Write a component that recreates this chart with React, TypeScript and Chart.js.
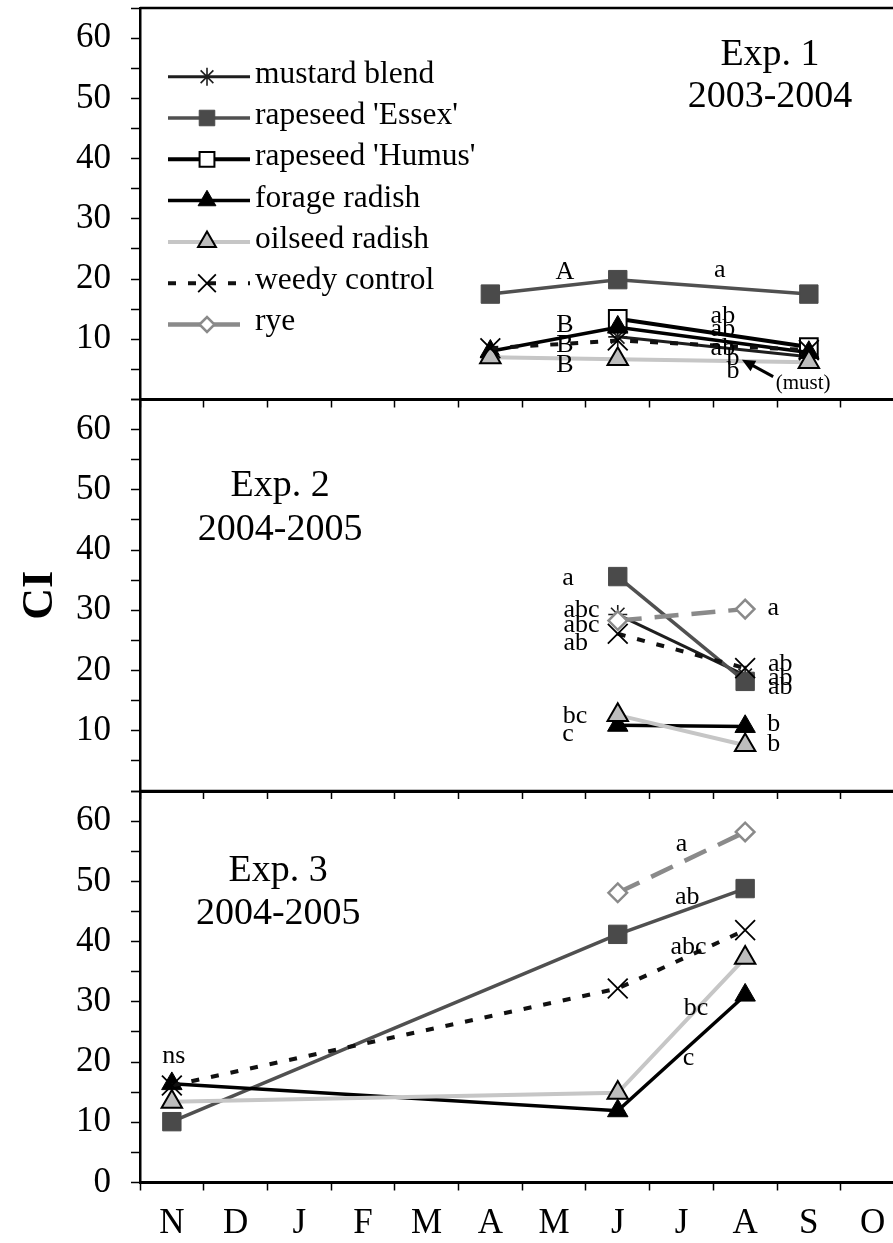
import { useEffect, useRef } from 'react';
import { Chart, registerables } from 'chart.js';
import { drawPoint } from 'chart.js/helpers';

Chart.register(...registerables);

const FONT = "'Liberation Serif', 'Times New Roman', serif";

// Month axis, November to October
const months = ['N', 'D', 'J', 'F', 'M', 'A', 'M', 'J', 'J', 'A', 'S', 'O'];

// Sampling dates as positions on the month axis
const exp1Dates = [5, 7, 10]; // A, J, S
const exp2Dates = [7, 9]; // J, A
const exp3Dates = [0, 7, 9]; // N, J, A

// Exp. 1, 2003-2004
const exp1Mustard = [null, 10.4, 7.1];
const exp1Essex = [17.5, 19.9, 17.5];
const exp1Humus = [null, 13.4, 8.7];
const exp1Forage = [8.0, 12.0, 7.8];
const exp1Oilseed = [7.0, 6.7, 6.2];
const exp1Weedy = [8.5, 9.8, 8.2];

// Exp. 2, 2004-2005
const exp2Mustard = [29.3, 19.2];
const exp2Essex = [35.6, 18.2];
const exp2Forage = [10.9, 10.7];
const exp2Oilseed = [12.6, 7.6];
const exp2Weedy = [26.1, 20.4];
const exp2Rye = [28.3, 30.2];

// Exp. 3, 2004-2005
const exp3Essex = [10.1, 41.2, 48.8];
const exp3Forage = [16.4, 11.9, 31.1];
const exp3Oilseed = [13.4, 14.9, 37.3];
const exp3Weedy = [16.1, 32.2, 41.9];
const exp3Rye = [null, 48.1, 58.2];

// Mean separation letters, placed in axis units (month position, CI)
type Letter = { text: string; x: number; y: number };
const exp1Letters: Letter[] = [
  { text: 'A', x: 6.17, y: 21.2 },
  { text: 'B', x: 6.17, y: 12.3 },
  { text: 'B', x: 6.17, y: 9.0 },
  { text: 'B', x: 6.17, y: 5.7 },
  { text: 'a', x: 8.6, y: 21.5 },
  { text: 'ab', x: 8.65, y: 13.9 },
  { text: 'ab', x: 8.65, y: 11.7 },
  { text: 'ab', x: 8.65, y: 8.6 },
  { text: 'b', x: 8.81, y: 6.9 },
  { text: 'b', x: 8.81, y: 4.7 },
];
const exp2Letters: Letter[] = [
  { text: 'a', x: 6.22, y: 35.3 },
  { text: 'abc', x: 6.43, y: 30.0 },
  { text: 'abc', x: 6.43, y: 27.5 },
  { text: 'ab', x: 6.34, y: 24.5 },
  { text: 'a', x: 9.44, y: 30.3 },
  { text: 'ab', x: 9.55, y: 21.1 },
  { text: 'ab', x: 9.55, y: 18.8 },
  { text: 'ab', x: 9.55, y: 17.3 },
  { text: 'bc', x: 6.33, y: 12.5 },
  { text: 'c', x: 6.22, y: 9.4 },
  { text: 'b', x: 9.45, y: 11.1 },
  { text: 'b', x: 9.45, y: 7.8 },
];
const exp3Letters: Letter[] = [
  { text: 'ns', x: 0.03, y: 20.9 },
  { text: 'a', x: 8.0, y: 56.1 },
  { text: 'ab', x: 8.09, y: 47.3 },
  { text: 'abc', x: 8.11, y: 39.0 },
  { text: 'bc', x: 8.23, y: 28.9 },
  { text: 'c', x: 8.11, y: 20.7 },
];

type SeriesKey = 'mustard' | 'essex' | 'humus' | 'forage' | 'oilseed' | 'weedy' | 'rye';
const seriesOrder: SeriesKey[] = ['mustard', 'essex', 'humus', 'forage', 'oilseed', 'weedy', 'rye'];

const styles: Record<SeriesKey, any> = {
  mustard: { label: 'mustard blend', color: '#1e1e1e', width: 3, dash: [], legendDash: [], pointStyle: 'star', radius: 9.5, fill: '#1e1e1e', stroke: '#1e1e1e', pointWidth: 1.6, legendRadius: 9 },
  essex: { label: "rapeseed 'Essex'", color: '#505050', width: 3.5, dash: [], legendDash: [], pointStyle: 'rect', radius: 13, fill: '#4a4a4a', stroke: '#4a4a4a', pointWidth: 1, legendRadius: 11 },
  humus: { label: "rapeseed 'Humus'", color: '#000000', width: 4, dash: [], legendDash: [], pointStyle: 'rect', radius: 12.5, fill: '#ffffff', stroke: '#000000', pointWidth: 2, legendRadius: 10.5 },
  forage: { label: 'forage radish', color: '#000000', width: 3.5, dash: [], legendDash: [], pointStyle: 'triangle', radius: 11.8, fill: '#000000', stroke: '#000000', pointWidth: 1, legendRadius: 10.3 },
  oilseed: { label: 'oilseed radish', color: '#c6c6c6', width: 4, dash: [], legendDash: [], pointStyle: 'triangle', radius: 11.8, fill: '#bdbdbd', stroke: '#000000', pointWidth: 2, legendRadius: 10.3 },
  weedy: { label: 'weedy control', color: '#111111', width: 4, dash: [8, 12], legendDash: [8, 12], pointStyle: 'crossRot', radius: 14, fill: '#000000', stroke: '#000000', pointWidth: 1.8, legendRadius: 12.5 },
  rye: { label: 'rye', color: '#8a8a8a', width: 4.5, dash: [24, 13], legendDash: [], pointStyle: 'rectRot', radius: 9.3, fill: '#ffffff', stroke: '#8a8a8a', pointWidth: 2.5, legendRadius: 7.5 },
};

function series(key: SeriesKey, dates: number[], values: (number | null)[]) {
  const s = styles[key];
  return {
    label: s.label,
    data: dates.map((d, i) => ({ x: d, y: values[i] })),
    borderColor: s.color,
    borderWidth: s.width,
    borderDash: s.dash,
    borderCapStyle: 'butt',
    pointStyle: s.pointStyle,
    pointRadius: s.radius,
    pointBackgroundColor: s.fill,
    pointBorderColor: s.stroke,
    pointBorderWidth: s.pointWidth,
    tension: 0,
    fill: false,
    spanGaps: false,
    clip: false,
    order: 10 - seriesOrder.indexOf(key),
  };
}

const CANVAS_W = 915;
const PLOT_RIGHT = 904.4;

type Panel = {
  top: number;
  bottom: number;
  canvasTop: number;
  canvasH: number;
  xAxisH: number;
  showMonths: boolean;
  showZero: boolean;
  yTitle: boolean;
  datasets: any[];
  title: string[];
  titleX: number;
  titleY: number[];
  letters: Letter[];
  legend: boolean;
  note: boolean;
};

const panels: Panel[] = [
  {
    top: 8, bottom: 399.5, canvasTop: 0, canvasH: 410, xAxisH: 10,
    showMonths: false, showZero: false, yTitle: false,
    datasets: [
      series('mustard', exp1Dates, exp1Mustard),
      series('essex', exp1Dates, exp1Essex),
      series('humus', exp1Dates, exp1Humus),
      series('forage', exp1Dates, exp1Forage),
      series('oilseed', exp1Dates, exp1Oilseed),
      series('weedy', exp1Dates, exp1Weedy),
    ],
    title: ['Exp. 1', '2003-2004'], titleX: 9.39, titleY: [57.2, 50.3],
    letters: exp1Letters, legend: true, note: true,
  },
  {
    top: 399.5, bottom: 791, canvasTop: 395, canvasH: 406, xAxisH: 10,
    showMonths: false, showZero: false, yTitle: true,
    datasets: [
      series('mustard', exp2Dates, exp2Mustard),
      series('essex', exp2Dates, exp2Essex),
      series('forage', exp2Dates, exp2Forage),
      series('oilseed', exp2Dates, exp2Oilseed),
      series('weedy', exp2Dates, exp2Weedy),
      series('rye', exp2Dates, exp2Rye),
    ],
    title: ['Exp. 2', '2004-2005'], titleX: 1.7, titleY: [50.6, 43.4],
    letters: exp2Letters, legend: false, note: false,
  },
  {
    top: 791, bottom: 1182.5, canvasTop: 786, canvasH: 457, xAxisH: 57,
    showMonths: true, showZero: true, yTitle: false,
    datasets: [
      series('essex', exp3Dates, exp3Essex),
      series('forage', exp3Dates, exp3Forage),
      series('oilseed', exp3Dates, exp3Oilseed),
      series('weedy', exp3Dates, exp3Weedy),
      series('rye', exp3Dates, exp3Rye),
    ],
    title: ['Exp. 3', '2004-2005'], titleX: 1.67, titleY: [51.7, 44.5],
    letters: exp3Letters, legend: false, note: false,
  },
];

function drawLegend(ctx: CanvasRenderingContext2D, left: number, top: number) {
  const lineStart = left + 28;
  const lineEnd = left + 110;
  const markX = left + 67;
  const textX = left + 115;
  ctx.font = `31.5px ${FONT}`;
  ctx.textAlign = 'left';
  ctx.textBaseline = 'middle';
  seriesOrder.forEach((key, i) => {
    const s = styles[key];
    const y = top + 68.7 + i * 41.3;
    ctx.save();
    ctx.strokeStyle = s.color;
    ctx.lineWidth = s.width;
    ctx.setLineDash(s.legendDash);
    ctx.beginPath();
    ctx.moveTo(lineStart, y);
    ctx.lineTo(key === 'rye' ? lineEnd - 10 : lineEnd, y);
    ctx.stroke();
    ctx.setLineDash([]);
    ctx.fillStyle = s.fill;
    ctx.strokeStyle = s.stroke;
    ctx.lineWidth = s.pointWidth;
    drawPoint(ctx, { pointStyle: s.pointStyle, radius: s.legendRadius, borderWidth: s.pointWidth, rotation: 0 } as any, markX, y);
    ctx.restore();
    ctx.fillStyle = '#000';
    ctx.fillText(s.label, textX, y - 2.3);
  });
}

function decor(panel: Panel) {
  return {
    id: 'panelDecor',
    afterDraw(chart: any) {
      const { ctx, chartArea } = chart;
      const xs = chart.scales.x;
      const ys = chart.scales.y;
      const px = (v: number) => xs.getPixelForValue(v);
      const py = (v: number) => ys.getPixelForValue(v);
      ctx.save();
      // upper edge of the panel frame
      ctx.strokeStyle = '#000';
      ctx.lineWidth = 2.5;
      ctx.beginPath();
      ctx.moveTo(chartArea.left, chartArea.top);
      ctx.lineTo(chartArea.right, chartArea.top);
      ctx.stroke();

      ctx.fillStyle = '#000';
      ctx.textAlign = 'center';
      ctx.textBaseline = 'middle';
      ctx.font = `38px ${FONT}`;
      panel.title.forEach((t, i) => ctx.fillText(t, px(panel.titleX), py(panel.titleY[i])));

      ctx.font = `26px ${FONT}`;
      panel.letters.forEach((l) => ctx.fillText(l.text, px(l.x), py(l.y)));

      if (panel.note) {
        // arrow pointing at the mustard blend letter
        const x1 = px(9.44), y1 = py(3.8);
        const x2 = px(8.95), y2 = py(6.6);
        const ang = Math.atan2(y2 - y1, x2 - x1);
        const head = 13;
        ctx.strokeStyle = '#000';
        ctx.lineWidth = 3;
        ctx.beginPath();
        ctx.moveTo(x1, y1);
        ctx.lineTo(x2 - Math.cos(ang) * head * 0.8, y2 - Math.sin(ang) * head * 0.8);
        ctx.stroke();
        ctx.beginPath();
        ctx.moveTo(x2, y2);
        ctx.lineTo(x2 - Math.cos(ang) * head + Math.sin(ang) * 6, y2 - Math.sin(ang) * head - Math.cos(ang) * 6);
        ctx.lineTo(x2 - Math.cos(ang) * head - Math.sin(ang) * 6, y2 - Math.sin(ang) * head + Math.cos(ang) * 6);
        ctx.closePath();
        ctx.fill();
        ctx.font = `21px ${FONT}`;
        ctx.fillText('(must)', px(9.91), py(2.7));
      }

      if (panel.legend) drawLegend(ctx, chartArea.left, chartArea.top);
      ctx.restore();
    },
  };
}

function makeConfig(panel: Panel): any {
  const padTop = panel.top - panel.canvasTop;
  const padBottom = panel.canvasH - (panel.bottom - panel.canvasTop) - panel.xAxisH;
  return {
    type: 'line',
    data: { datasets: panel.datasets },
    options: {
      animation: false,
      responsive: false,
      devicePixelRatio: 1,
      events: [],
      layout: {
        autoPadding: false,
        padding: { top: padTop, bottom: padBottom, left: 0, right: CANVAS_W - PLOT_RIGHT },
      },
      plugins: { legend: { display: false }, tooltip: { enabled: false } },
      scales: {
        x: {
          type: 'linear',
          min: -0.5,
          max: 11.5,
          afterBuildTicks: (s: any) => {
            s.ticks = months.map((_, i) => ({ value: i }));
          },
          afterFit: (s: any) => {
            s.height = panel.xAxisH;
            s.paddingLeft = 0;
            s.paddingRight = 0;
          },
          grid: { drawOnChartArea: false, drawTicks: true, tickLength: 8, offset: true, tickColor: '#000', tickWidth: 1.5 },
          border: { display: true, color: '#000', width: 3 },
          ticks: {
            display: panel.showMonths,
            autoSkip: false,
            maxRotation: 0,
            padding: 12,
            color: '#000',
            font: { family: FONT, size: 35 },
            callback: (v: number) => months[v] ?? '',
          },
        },
        y: {
          min: 0,
          max: 65,
          afterFit: (s: any) => {
            s.width = 140;
            s.paddingTop = 0;
            s.paddingBottom = 0;
          },
          grid: { drawOnChartArea: false, drawTicks: true, tickLength: 9, tickColor: '#000', tickWidth: 1.5 },
          border: { display: true, color: '#000', width: 2.5 },
          ticks: {
            stepSize: 5,
            autoSkip: false,
            padding: 20,
            color: '#000',
            font: { family: FONT, size: 35 },
            callback: (v: number) =>
              v % 10 === 0 && v <= 60 && (v > 0 || panel.showZero) ? String(v) : '',
          },
          title: {
            display: panel.yTitle,
            text: 'CI',
            color: '#000',
            font: { family: FONT, size: 44, weight: 'bold' },
            padding: { top: 14, bottom: 0 },
          },
        },
      },
    },
    plugins: [decor(panel)],
  };
}

export default function App() {
  const r1 = useRef<HTMLCanvasElement>(null);
  const r2 = useRef<HTMLCanvasElement>(null);
  const r3 = useRef<HTMLCanvasElement>(null);
  const refs = [r1, r2, r3];

  useEffect(() => {
    const charts = panels.map((p, i) => new Chart(refs[i].current as HTMLCanvasElement, makeConfig(p)));
    return () => charts.forEach((c) => c.destroy());
  }, []);

  return (
    <div
      style={{
        position: 'fixed',
        left: 0,
        top: 0,
        width: 893,
        height: 1243,
        overflow: 'hidden',
        background: '#ffffff',
      }}
    >
      {panels.map((p, i) => (
        <canvas
          key={i}
          ref={refs[i]}
          width={CANVAS_W}
          height={p.canvasH}
          style={{ position: 'absolute', left: 0, top: p.canvasTop, width: CANVAS_W, height: p.canvasH }}
        />
      ))}
    </div>
  );
}
